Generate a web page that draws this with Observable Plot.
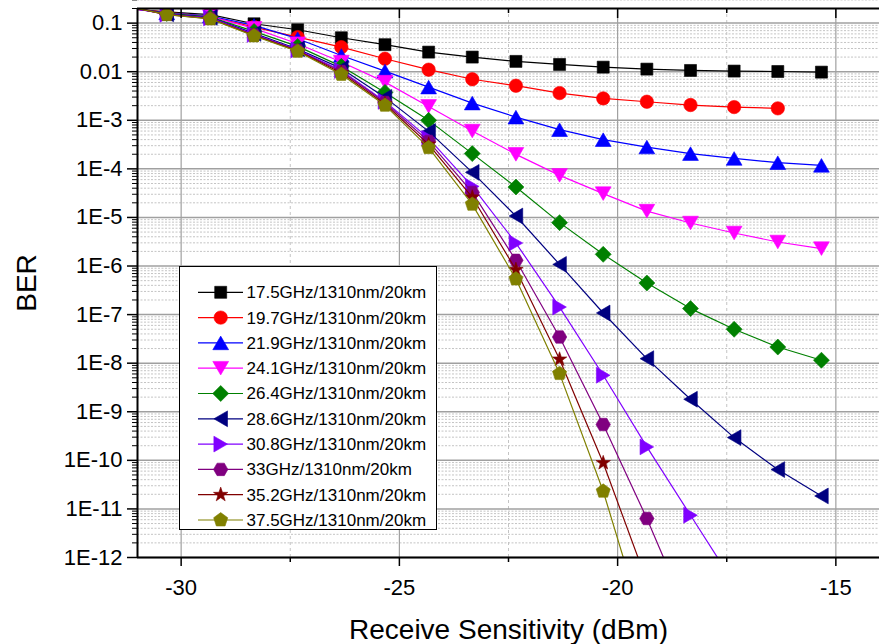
<!DOCTYPE html>
<html><head><meta charset="utf-8">
<script src="https://cdn.jsdelivr.net/npm/d3@7"></script>
<script src="https://cdn.jsdelivr.net/npm/@observablehq/plot@0.6"></script>
<style>html,body{margin:0;padding:0;background:#fff;overflow:hidden}</style>
</head><body><div id="chart"></div>
<script>
// ---- data ----
const xValues = [-31.33, -30.33, -29.33, -28.33, -27.33, -26.33, -25.33, -24.33, -23.33, -22.33, -21.33, -20.33, -19.33, -18.33, -17.33, -16.33, -15.33];
const seriesNames = ["17.5GHz/1310nm/20km","19.7GHz/1310nm/20km","21.9GHz/1310nm/20km","24.1GHz/1310nm/20km","26.4GHz/1310nm/20km","28.6GHz/1310nm/20km","30.8GHz/1310nm/20km","33GHz/1310nm/20km","35.2GHz/1310nm/20km","37.5GHz/1310nm/20km"];
const seriesColors = ["#000000","#FF0000","#0000FF","#FF00FF","#008000","#000080","#8000FF","#800080","#800000","#808000"];
const ber17_5 = [0.20, 0.17, 0.15, 0.097, 0.073, 0.050, 0.036, 0.0253, 0.020, 0.0163, 0.0141, 0.0124, 0.0113, 0.0106, 0.0103, 0.0101, 0.0098];
const ber19_7 = [0.21, 0.166, 0.137, 0.083, 0.0515, 0.032, 0.0185, 0.011, 0.0070, 0.00515, 0.00363, 0.00282, 0.00241, 0.00206, 0.00187, 0.00176];
const ber21_9 = [0.21, 0.162, 0.14, 0.0897, 0.0478, 0.0216, 0.0103, 0.00482, 0.00226, 0.00116, 6.4e-4, 3.99e-4, 2.81e-4, 2.06e-4, 1.64e-4, 1.34e-4, 1.18e-4];
const ber24_1 = [0.21, 0.158, 0.137, 0.078, 0.0377, 0.0158, 0.0061, 0.00193, 6.0e-4, 1.99e-4, 7.35e-5, 3.09e-5, 1.35e-5, 7.67e-6, 4.78e-6, 3.12e-6, 2.28e-6];
const ber26_4 = [0.22, 0.158, 0.134, 0.0675, 0.0332, 0.0129, 0.00375, 9.96e-4, 2.06e-4, 4.23e-5, 7.82e-6, 1.74e-6, 4.47e-7, 1.33e-7, 4.99e-8, 2.15e-8, 1.15e-8];
const ber28_6 = [0.22, 0.155, 0.131, 0.0614, 0.0294, 0.0117, 0.00296, 5.91e-4, 8.47e-5, 1.07e-5, 1.08e-6, 1.08e-7, 1.24e-8, 1.81e-9, 2.94e-10, 6.45e-11, 1.85e-11];
const ber30_8 = [0.22, 0.152, 0.128, 0.0585, 0.0281, 0.0106, 0.00245, 4.25e-4, 4.36e-5, 2.97e-6, 1.43e-7, 5.64e-9, 1.89e-10, 7.4e-12, 2.9e-13];
const ber33_0 = [0.23, 0.152, 0.125, 0.0571, 0.0274, 0.0101, 0.00233, 3.68e-4, 3.28e-5, 1.31e-6, 3.46e-8, 5.46e-10, 6.35e-12, 5e-14];
const ber35_2 = [0.23, 0.15, 0.123, 0.056, 0.0268, 0.00944, 0.00217, 3.19e-4, 2.6e-5, 8.4e-7, 1.2e-8, 8.85e-11, 3.2e-13];
const ber37_5 = [0.23, 0.149, 0.122, 0.0546, 0.0262, 0.00879, 0.00203, 2.73e-4, 1.86e-5, 5.4e-7, 6.1e-9, 2.31e-11, 2.5e-14];
const seriesValues = [ber17_5, ber19_7, ber21_9, ber24_1, ber26_4, ber28_6, ber30_8, ber33_0, ber35_2, ber37_5];

const xTickValues = [-30, -25, -20, -15];
const xTickLabels = ["-30", "-25", "-20", "-15"];
const xMinorTicks = [-27.5, -22.5, -17.5];
const yTickValues = [0.1, 0.01, 1e-3, 1e-4, 1e-5, 1e-6, 1e-7, 1e-8, 1e-9, 1e-10, 1e-11, 1e-12];
const yTickLabels = ["0.1", "0.01", "1E-3", "1E-4", "1E-5", "1E-6", "1E-7", "1E-8", "1E-9", "1E-10", "1E-11", "1E-12"];
const xDomain = [-31, -14];
const yDomain = [1e-12, 0.2];
const xTitle = "Receive Sensitivity (dBm)";
const yTitle = "BER";

// ---- derived ----
const yMinorTicks = [];
for (let d = -12; d <= -1; d++) for (let k = 2; k <= 9; k++) yMinorTicks.push(+(k + "e" + d));
const xLabelMap = new Map(xTickValues.map((v, i) => [v, xTickLabels[i]]));
const yLabelMap = new Map(yTickValues.map((v, i) => [v, yTickLabels[i]]));
const rows = seriesValues.flatMap((vals, s) => vals.map((v, i) => ({series: s, x: xValues[i], ber: v})));

// marker shapes (pixel geometry at r = 7)
function polySym(pts) {
  return {draw(ctx, size) {
    const s = Math.sqrt(size / Math.PI) / 7;
    ctx.moveTo(pts[0][0] * s, pts[0][1] * s);
    for (let i = 1; i < pts.length; i++) ctx.lineTo(pts[i][0] * s, pts[i][1] * s);
    ctx.closePath();
  }};
}
function radial(n, rOuter, rInner, start) {
  const pts = [];
  const m = rInner ? 2 * n : n;
  for (let i = 0; i < m; i++) {
    const a = (start + i * 360 / m) * Math.PI / 180;
    const r = rInner && (i % 2) ? rInner : rOuter;
    pts.push([r * Math.cos(a), r * Math.sin(a)]);
  }
  return pts;
}
const circleSym = {draw(ctx, size) { const r = 6.7 * Math.sqrt(size / Math.PI) / 7; ctx.moveTo(r, 0); ctx.arc(0, 0, r, 0, 2 * Math.PI); ctx.closePath(); }};
const symbols = [
  polySym([[-6, -6], [6, -6], [6, 6], [-6, 6]]),
  circleSym,
  polySym([[0, -6.8], [7.9, 6.8], [-7.9, 6.8]]),
  polySym([[0, 6.8], [7.9, -6.8], [-7.9, -6.8]]),
  polySym([[0, -8], [8, 0], [0, 8], [-8, 0]]),
  polySym([[-6.8, 0], [6.8, -7.9], [6.8, 7.9]]),
  polySym([[6.8, 0], [-6.8, -7.9], [-6.8, 7.9]]),
  polySym(radial(6, 7.2, 0, 0)),
  polySym(radial(5, 7.6, 3.0, -90)),
  polySym(radial(5, 7.4, 0, -90))
];

const font = "'Liberation Sans', Arial, sans-serif";
const seriesMarks = seriesValues.flatMap((vals, s) => {
  const data = rows.filter(d => d.series === s);
  return [
    Plot.line(data, {x: "x", y: "ber", stroke: seriesColors[s], strokeWidth: 1.2, clip: true}),
    Plot.dot(data, {x: "x", y: "ber", r: 7, symbol: symbols[s], fill: seriesColors[s], stroke: seriesColors[s], strokeWidth: 0.6, clip: true})
  ];
});

const chart = Plot.plot({
  width: 879, height: 644,
  marginLeft: 137, marginRight: 0, marginTop: 8, marginBottom: 87,
  style: {fontFamily: font, background: "white", color: "black"},
  x: {domain: xDomain},
  y: {type: "log", domain: yDomain},
  marks: [
    Plot.ruleY(yMinorTicks, {stroke: "#c4c4c4", strokeWidth: 1, strokeDasharray: "2,1.5"}),
    Plot.ruleX(xMinorTicks, {stroke: "#c4c4c4", strokeWidth: 1, strokeDasharray: "3,3"}),
    Plot.ruleY(yTickValues, {stroke: "#a0a0a0", strokeWidth: 1.5}),
    Plot.ruleX(xTickValues, {stroke: "#a0a0a0", strokeWidth: 1.2}),
    ...seriesMarks,
    Plot.axisX({ticks: xTickValues, tickSize: 9, tickPadding: 13, fontSize: 22, tickFormat: d => xLabelMap.get(d), label: null, strokeWidth: 1.5}),
    Plot.axisX({ticks: xMinorTicks, tickSize: 5, text: null, label: null, strokeWidth: 1.5}),
    Plot.axisY({ticks: yTickValues, tickSize: 10, tickPadding: 5, fontSize: 22, tickFormat: d => yLabelMap.get(d), label: null, strokeWidth: 1.5}),
    Plot.axisY({ticks: yMinorTicks, tickSize: 5, text: null, label: null, strokeWidth: 1}),
    Plot.ruleX(xTickValues, {insetBottom: 539, stroke: "black", strokeWidth: 1.5}),
    Plot.ruleX(xMinorTicks, {insetBottom: 544, stroke: "black", strokeWidth: 1.5}),
    Plot.ruleX([xDomain[0]], {stroke: "black", strokeWidth: 2}),
    Plot.ruleY([yDomain[0]], {stroke: "black", strokeWidth: 2}),
    Plot.ruleY([yDomain[1]], {stroke: "black", strokeWidth: 2}),
    Plot.text([yTitle], {frameAnchor: "left", dx: -110, rotate: -90, textAnchor: "middle", lineAnchor: "middle", fontSize: 28}),
    Plot.text([xTitle], {frameAnchor: "bottom", dy: 73, textAnchor: "middle", lineAnchor: "middle", fontSize: 28})
  ]
});
document.getElementById("chart").appendChild(chart);

// ---- legend ----
const svg = d3.select(chart);
const lg = svg.append("g").attr("font-family", font).attr("font-size", 17).attr("text-anchor", "start");
lg.append("rect").attr("x", 179.5).attr("y", 266.5).attr("width", 257).attr("height", 263)
  .attr("fill", "white").attr("stroke", "black").attr("stroke-width", 1);
seriesNames.forEach((name, i) => {
  const y = 292.3 + 25.3 * i;
  const row = lg.append("g");
  row.append("line").attr("x1", 198).attr("x2", 243).attr("y1", y).attr("y2", y)
    .attr("stroke", seriesColors[i]).attr("stroke-width", 1.2);
  row.append("path").attr("d", d3.symbol(symbols[i], 49 * Math.PI)())
    .attr("transform", `translate(220.7,${y})`).attr("fill", seriesColors[i]).attr("stroke", seriesColors[i]).attr("stroke-width", 0.6);
  row.append("text").attr("x", 246.5).attr("y", y).attr("dy", "0.35em").attr("text-anchor", "start").attr("fill", "black").text(name);
});
</script>
</body></html>
